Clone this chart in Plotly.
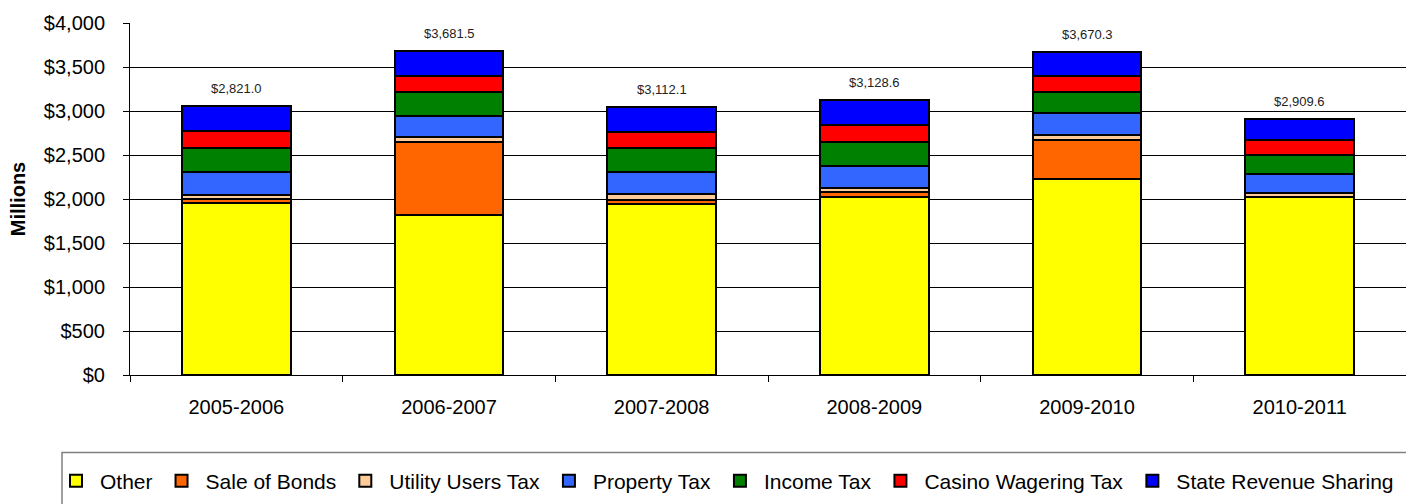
import plotly.graph_objects as go

# Fiscal years
years = ["2005-2006", "2006-2007", "2007-2008", "2008-2009", "2009-2010", "2010-2011"]

# Revenue by source, $ millions
other = [1952, 1820, 1948, 2021, 2226, 2022]
sale_of_bonds = [48, 826, 46, 53, 447, 0]
utility_users_tax = [47, 57, 61, 53, 57, 48]
property_tax = [262, 239, 250, 250, 253, 212]
income_tax = [267, 269, 271, 273, 236, 216]
casino_wagering_tax = [195, 189, 191, 193, 181, 175]
state_revenue_sharing = [286, 281.5, 281, 285.6, 270.3, 236.6]

# Reported totals shown above each column
reported_totals = [2821.0, 3681.5, 3112.1, 3128.6, 3670.3, 2909.6]

series = [
    ("Other", other, "#FFFF00"),
    ("Sale of Bonds", sale_of_bonds, "#FF6600"),
    ("Utility Users Tax", utility_users_tax, "#FFCC99"),
    ("Property Tax", property_tax, "#3366FF"),
    ("Income Tax", income_tax, "#008000"),
    ("Casino Wagering Tax", casino_wagering_tax, "#FF0000"),
    ("State Revenue Sharing", state_revenue_sharing, "#0000FF"),
]

FONT = "Arial, Liberation Sans, sans-serif"

fig = go.Figure()
for name, vals, color in series:
    fig.add_trace(go.Bar(
        name=name, x=years, y=vals,
        marker=dict(color=color, line=dict(color="#000000", width=2)),
    ))

# stack heights for placing the total labels
stack_tops = [sum(s[1][i] for s in series) for i in range(len(years))]
for yr, top, tot in zip(years, stack_tops, reported_totals):
    fig.add_annotation(
        x=yr, y=top, text=f"${tot:,.1f}", showarrow=False,
        yanchor="bottom", yshift=8,
        font=dict(family=FONT, size=13, color="#222222"),
    )

H_PLOT = 504 - 23 - 129
W_PLOT = 1406 - 130

def py(pix):
    return (375 - pix) / H_PLOT

def px(pix):
    return (pix - 130) / W_PLOT

# frame around the legend strip
fig.add_shape(
    type="rect", xref="paper", yref="paper",
    x0=px(62), x1=px(1420), y0=py(452.5), y1=py(530),
    line=dict(color="#808080", width=1.5), fillcolor="rgba(0,0,0,0)",
    layer="below",
)

fig.update_layout(
    width=1406, height=504, autosize=False,
    margin=dict(l=130, r=0, t=23, b=129),
    paper_bgcolor="white", plot_bgcolor="white",
    font=dict(family=FONT, size=20, color="#000000"),
    barmode="stack", bargap=0.49,
    showlegend=True,
    legend=dict(
        orientation="h", traceorder="normal",
        x=px(52), xanchor="left", y=py(481), yanchor="middle",
        font=dict(family=FONT, size=21, color="#000000"),
        itemwidth=38, bgcolor="rgba(0,0,0,0)", borderwidth=0,
    ),
    xaxis=dict(
        type="category", showline=True, linecolor="#000000", linewidth=1,
        ticks="outside", ticklen=6, tickcolor="#000000", tickson="boundaries",
        showgrid=False, ticklabelstandoff=14,
        tickfont=dict(family=FONT, size=20, color="#000000"),
    ),
    yaxis=dict(
        range=[0, 4000], dtick=500, tickprefix="$", tickformat=",",
        showline=True, linecolor="#000000", linewidth=1,
        ticks="outside", ticklen=6, tickcolor="#000000",
        showgrid=True, gridcolor="#000000", gridwidth=1,
        zeroline=False, ticklabelstandoff=14,
        tickfont=dict(family=FONT, size=20, color="#000000"),
        title=dict(text="<b>Millions</b>", standoff=12,
                   font=dict(family=FONT, size=20, color="#000000")),
    ),
)

fig.write_html("out.html")
